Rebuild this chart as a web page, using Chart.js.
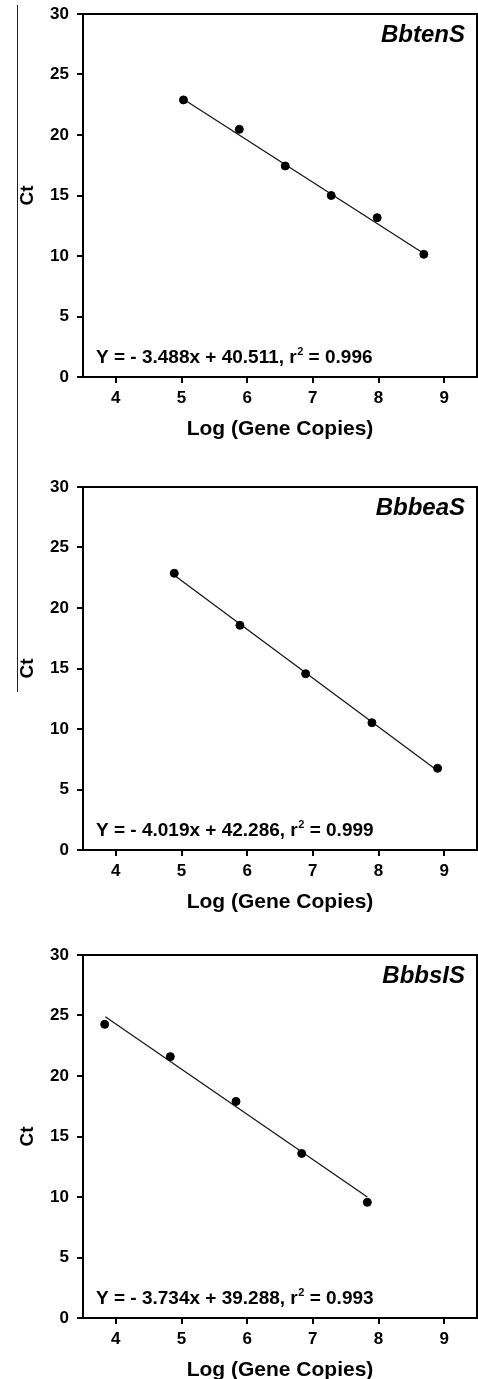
<!DOCTYPE html>
<html>
<head>
<meta charset="utf-8">
<script src="https://cdn.jsdelivr.net/npm/chart.js@4"></script>
<style>
  html,body{margin:0;padding:0;background:#fff;}
  body{width:478px;height:1379px;overflow:hidden;position:relative;}
  canvas{position:absolute;left:0;}
  #edge{position:absolute;left:17px;top:5px;width:1px;height:687px;background:#222;}
</style>
</head>
<body>
<div id="edge"></div>
<canvas id="c0" width="482" height="465" style="top:0px"></canvas>
<canvas id="c1" width="482" height="465" style="top:473px"></canvas>
<canvas id="c2" width="482" height="465" style="top:941px"></canvas>
<script>
// values
const xTicks = [4, 5, 6, 7, 8, 9];
const yTicks = [0, 5, 10, 15, 20, 25, 30];
const genes = ["BbtenS", "BbbeaS", "BbbsIS"];
const equations = ["Y = - 3.488x + 40.511, r", "Y = - 4.019x + 42.286, r", "Y = - 3.734x + 39.288, r"];
const r2 = ["0.996", "0.999", "0.993"];

const logTen = [5.03, 5.88, 6.58, 7.28, 7.98, 8.69];
const ctTen = [22.9, 20.47, 17.44, 15.0, 13.17, 10.14];
const logBea = [4.89, 5.89, 6.89, 7.90, 8.90];
const ctBea = [22.87, 18.57, 14.57, 10.52, 6.75];
const logBsl = [3.83, 4.83, 5.83, 6.83, 7.83];
const ctBsl = [24.27, 21.6, 17.9, 13.6, 9.56];

// fitted line ends
const fitXTen = [5.03, 8.69], fitYTen = [22.95, 10.2];
const fitXBea = [4.89, 8.90], fitYBea = [22.7, 6.55];
const fitXBsl = [3.84, 7.83], fitYBsl = [24.9, 10.0];

const series = [
  {x: logTen, y: ctTen, fx: fitXTen, fy: fitYTen},
  {x: logBea, y: ctBea, fx: fitXBea, fy: fitYBea},
  {x: logBsl, y: ctBsl, fx: fitXBsl, fy: fitYBsl}
];

const FONT = "'Liberation Sans', Arial, sans-serif";
Chart.defaults.font.family = FONT;
Chart.defaults.color = "#000";

const pts = (xs, ys) => xs.map((v, i) => ({x: v, y: ys[i]}));
// drop the automatic label padding so the layout padding decides the plot box
const noPad = ax => { ax.paddingTop = 0; ax.paddingBottom = 0; ax.paddingLeft = 0; ax.paddingRight = 0; };

const frame = {
  id: "frame",
  afterDraw(chart) {
    const {ctx, chartArea: a} = chart;
    const i = chart.options.plugins.frame.idx;
    ctx.save();
    ctx.strokeStyle = "#000"; ctx.lineWidth = 2;
    ctx.beginPath();
    ctx.moveTo(a.left, a.top); ctx.lineTo(a.right, a.top); ctx.lineTo(a.right, a.bottom);
    ctx.stroke();
    ctx.fillStyle = "#000";
    // gene name
    ctx.font = "italic bold 24px " + FONT;
    ctx.textAlign = "right"; ctx.textBaseline = "alphabetic";
    ctx.fillText(genes[i], a.right - 12, a.top + 28);
    // equation with r squared
    ctx.textAlign = "left";
    ctx.font = "bold 19px " + FONT;
    let x = a.left + 13, y = a.bottom - 14;
    ctx.fillText(equations[i], x, y);
    x += ctx.measureText(equations[i]).width;
    ctx.font = "bold 11px " + FONT;
    ctx.fillText("2", x + 0.5, y - 8);
    x += ctx.measureText("2").width + 0.5;
    ctx.font = "bold 19px " + FONT;
    ctx.fillText(" = " + r2[i], x, y);
    ctx.restore();
  }
};

function makeChart(id, i) {
  const s = series[i];
  return new Chart(document.getElementById(id), {
    type: "scatter",
    data: {
      datasets: [
        {data: pts(s.x, s.y), backgroundColor: "#000", borderColor: "#000", pointRadius: 4, pointHoverRadius: 4, showLine: false},
        {data: pts(s.fx, s.fy), borderColor: "#111", borderWidth: 1.2, pointRadius: 0, showLine: true, fill: false}
      ]
    },
    plugins: [frame],
    options: {
      responsive: false, animation: false, devicePixelRatio: 1,
      layout: {padding: {top: 14, right: 1, left: 0, bottom: 0}},
      plugins: {legend: {display: false}, tooltip: {enabled: false}, frame: {idx: i}},
      scales: {
        x: {
          type: "linear", min: 3.5, max: 9.5,
          afterBuildTicks: ax => { ax.ticks = xTicks.map(v => ({value: v})); },
          afterFit: ax => { ax.height = 88; noPad(ax); },
          grid: {drawOnChartArea: false, drawTicks: true, tickLength: 6, color: "#000", lineWidth: 2},
          border: {display: true, color: "#000", width: 2},
          ticks: {color: "#000", padding: 5, font: {size: 17, weight: "bold"}},
          title: {display: true, text: "Log (Gene Copies)", color: "#000", font: {size: 21, weight: "bold"}, padding: {top: 4, bottom: 23}}
        },
        y: {
          min: 0, max: 30,
          afterBuildTicks: ax => { ax.ticks = yTicks.map(v => ({value: v})); },
          afterFit: ax => { ax.width = 83; noPad(ax); },
          grid: {drawOnChartArea: false, drawTicks: true, tickLength: 6, color: "#000", lineWidth: 2},
          border: {display: true, color: "#000", width: 2},
          ticks: {color: "#000", padding: 8, font: {size: 17, weight: "bold"}},
          title: {display: true, text: "Ct", color: "#000", font: {size: 19, weight: "bold"}, padding: {top: 16, bottom: 0}}
        }
      }
    }
  });
}

makeChart("c0", 0);
makeChart("c1", 1);
makeChart("c2", 2);
</script>
</body>
</html>
